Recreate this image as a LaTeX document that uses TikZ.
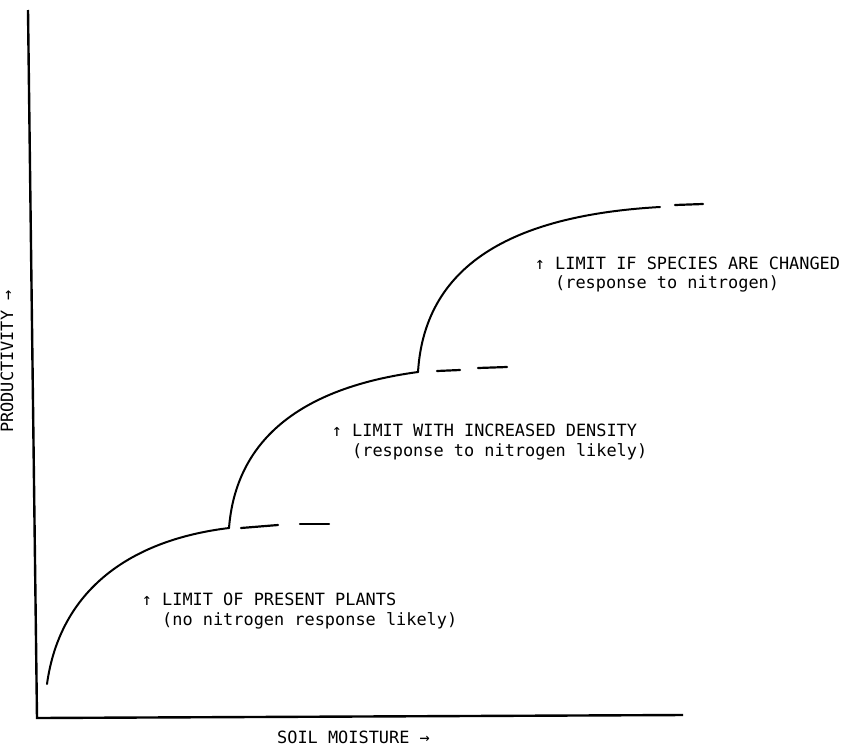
\documentclass[tikz,border=0pt]{standalone}
\usepackage{fontspec}
\setmainfont{DejaVu Sans Mono}
\begin{document}
\begin{tikzpicture}[x=1pt,y=-1pt,
  axisline/.style={line width=2.4pt,line join=miter},
  curveline/.style={line width=2pt,line cap=round},
  dashseg/.style={line width=2.2pt,line cap=round},
  lbl/.style={anchor=base west,inner sep=0pt,font=\fontsize{16.9}{20}\selectfont}]
\useasboundingbox (0,0) rectangle (845,747);
% axes
\coordinate (ytop) at (28,10);
\coordinate (origin) at (37,718);
\coordinate (xend) at (683,715);
\draw[axisline] (ytop) -- (origin) -- (xend);
% curve points
\coordinate (c1s) at (47,684);
\coordinate (j1) at (229,528);
\coordinate (j2) at (418,372);
\coordinate (c3e) at (660,207);
\draw[curveline] (c1s) .. controls (60,590) and (130,540) .. (j1);
\draw[curveline] (j1) .. controls (236,440) and (300,388) .. (j2);
\draw[curveline] (j2) .. controls (425,260) and (520,215) .. (c3e);
% dashed continuations
\coordinate (d1a) at (241,528); \coordinate (d1b) at (278,525);
\coordinate (d2a) at (300,524); \coordinate (d2b) at (329,524);
\coordinate (d3a) at (437,371); \coordinate (d3b) at (460,370);
\coordinate (d4a) at (478,368); \coordinate (d4b) at (507,367);
\coordinate (d5a) at (675,205); \coordinate (d5b) at (703,204);
\draw[dashseg] (d1a) -- (d1b);
\draw[dashseg] (d2a) -- (d2b);
\draw[dashseg] (d3a) -- (d3b);
\draw[dashseg] (d4a) -- (d4b);
\draw[dashseg] (d5a) -- (d5b);
% labels
\node[lbl] (l1a) at (162,605) {\makebox[0pt][r]{↑\ }LIMIT OF PRESENT PLANTS};
\node[lbl] (l1b) at (162,625) {(no nitrogen response likely)};
\node[lbl] (l2a) at (352,436) {\makebox[0pt][r]{↑\ }LIMIT WITH INCREASED DENSITY};
\node[lbl] (l2b) at (352,456) {(response to nitrogen likely)};
\node[lbl] (l3a) at (555,269) {\makebox[0pt][r]{↑\ }LIMIT IF SPECIES ARE CHANGED};
\node[lbl] (l3b) at (555,288) {(response to nitrogen)};
\node[lbl] (xlab) at (277,743) {SOIL MOISTURE →};
\node[lbl,rotate=90] (ylab) at (13,433) {PRODUCTIVITY →};
\end{tikzpicture}
\end{document}
